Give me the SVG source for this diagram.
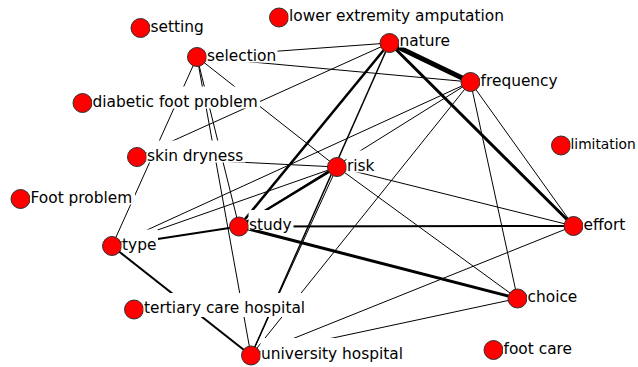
<svg xmlns="http://www.w3.org/2000/svg" width="638" height="367" viewBox="0 0 638 367">
<style>
.e line{stroke:#000;fill:none}
.n circle{fill:#ff0000;stroke:#303030;stroke-width:1}
.n rect{fill:#fff}
.n text{font-family:"DejaVu Sans",Verdana,sans-serif;font-size:15.4px;fill:#000}
</style>
<rect width="638" height="367" fill="#fff"/>
<g id="connectors" class="e">
<line x1="197" y1="57" x2="389.5" y2="43" stroke-width="1"/>
<line x1="197" y1="57" x2="470.5" y2="82" stroke-width="1"/>
<line x1="197" y1="57" x2="112" y2="246" stroke-width="1"/>
<line x1="197" y1="57" x2="239" y2="226.5" stroke-width="1"/>
<line x1="197" y1="57" x2="251" y2="355.5" stroke-width="1"/>
<line x1="197" y1="57" x2="337" y2="167" stroke-width="1"/>
<line x1="137" y1="157" x2="389.5" y2="43" stroke-width="1"/>
<line x1="137" y1="157" x2="337" y2="167" stroke-width="1"/>
<line x1="389.5" y1="43" x2="470.5" y2="82" stroke-width="5"/>
<line x1="389.5" y1="43" x2="573.5" y2="226" stroke-width="3"/>
<line x1="389.5" y1="43" x2="239" y2="226.5" stroke-width="2.5"/>
<line x1="389.5" y1="43" x2="251" y2="355.5" stroke-width="1.5"/>
<line x1="337" y1="167" x2="251" y2="355.5" stroke-width="1"/>
<line x1="337" y1="167" x2="239" y2="226.5" stroke-width="2.5"/>
<line x1="337" y1="167" x2="573.5" y2="226" stroke-width="1"/>
<line x1="337" y1="167" x2="517.5" y2="298.5" stroke-width="1"/>
<line x1="112" y1="246" x2="239" y2="226.5" stroke-width="2"/>
<line x1="112" y1="246" x2="251" y2="355.5" stroke-width="2"/>
<line x1="112" y1="246" x2="337" y2="167" stroke-width="1"/>
<line x1="112" y1="246" x2="470.5" y2="82" stroke-width="1"/>
<line x1="239" y1="226.5" x2="470.5" y2="82" stroke-width="1"/>
<line x1="239" y1="226.5" x2="573.5" y2="226" stroke-width="2"/>
<line x1="239" y1="226.5" x2="517.5" y2="298.5" stroke-width="3"/>
<line x1="470.5" y1="82" x2="573.5" y2="226" stroke-width="1"/>
<line x1="470.5" y1="82" x2="517.5" y2="298.5" stroke-width="1"/>
<line x1="470.5" y1="82" x2="251" y2="355.5" stroke-width="1"/>
<line x1="251" y1="355.5" x2="573.5" y2="226" stroke-width="1"/>
<line x1="251" y1="355.5" x2="517.5" y2="298.5" stroke-width="1"/>
</g>
<g id="setting" class="n"><circle cx="140.5" cy="28" r="9.5"/><rect x="150" y="11.5" width="56" height="22"/><text x="150.5" y="31.5">setting</text></g>
<g id="lower-extremity-amputation" class="n"><circle cx="279" cy="17.5" r="9.5"/><rect x="288.5" y="1" width="218" height="22"/><text x="289" y="21">lower extremity amputation</text></g>
<g id="selection" class="n"><circle cx="197" cy="57" r="9.5"/><rect x="206.5" y="40.5" width="71" height="22"/><text x="207" y="60.5">selection</text></g>
<g id="nature" class="n"><circle cx="389.5" cy="43" r="9.5"/><rect x="399" y="27" width="53" height="20.5"/><text x="399.5" y="46">nature</text></g>
<g id="frequency" class="n"><circle cx="470.5" cy="82" r="9.5"/><rect x="480" y="65.5" width="80" height="22"/><text x="480.5" y="85.5">frequency</text></g>
<g id="diabetic-foot-problem" class="n"><circle cx="82.5" cy="103" r="9.5"/><rect x="92" y="86.5" width="168" height="22"/><text x="92.5" y="106.5">diabetic foot problem</text></g>
<g id="skin-dryness" class="n"><circle cx="137" cy="157" r="9.5"/><rect x="146.5" y="140.5" width="99" height="22"/><text x="147" y="160.5">skin dryness</text></g>
<g id="limitation" class="n"><circle cx="561" cy="145.5" r="9.5"/><rect x="570.5" y="129" width="66" height="22"/><text x="570.5" y="149" style="font-size:13.8px">limitation</text></g>
<g id="risk" class="n"><circle cx="337" cy="167" r="9.5"/><rect x="346.5" y="150.5" width="30" height="22"/><text x="347" y="170.5">risk</text></g>
<g id="foot-problem" class="n"><circle cx="20.5" cy="199" r="9.5"/><rect x="30" y="182.5" width="105" height="22"/><text x="30.5" y="202.5">Foot problem</text></g>
<g id="type" class="n"><circle cx="112" cy="246" r="9.5"/><rect x="121.5" y="229.5" width="36.5" height="22"/><text x="122" y="249.5">type</text></g>
<g id="study" class="n"><circle cx="239" cy="226.5" r="9.5"/><rect x="248.5" y="210" width="45" height="20"/><text x="249" y="230">study</text></g>
<g id="effort" class="n"><circle cx="573.5" cy="226" r="9.5"/><rect x="583" y="209.5" width="44.5" height="22"/><text x="583.5" y="229.5">effort</text></g>
<g id="tertiary-care-hospital" class="n"><circle cx="134" cy="309.5" r="9.5"/><rect x="143.5" y="293" width="164" height="24"/><text x="144" y="313">tertiary care hospital</text></g>
<g id="choice" class="n"><circle cx="517.5" cy="298.5" r="9.5"/><rect x="527" y="282" width="52" height="22"/><text x="527.5" y="302">choice</text></g>
<g id="university-hospital" class="n"><circle cx="251" cy="355.5" r="9.5"/><rect x="260.5" y="338" width="154" height="29"/><text x="261" y="359">university hospital</text></g>
<g id="foot-care" class="n"><circle cx="493.5" cy="350" r="9.5"/><rect x="503" y="333.5" width="71" height="22"/><text x="503.5" y="353.5">foot care</text></g>
</svg>
